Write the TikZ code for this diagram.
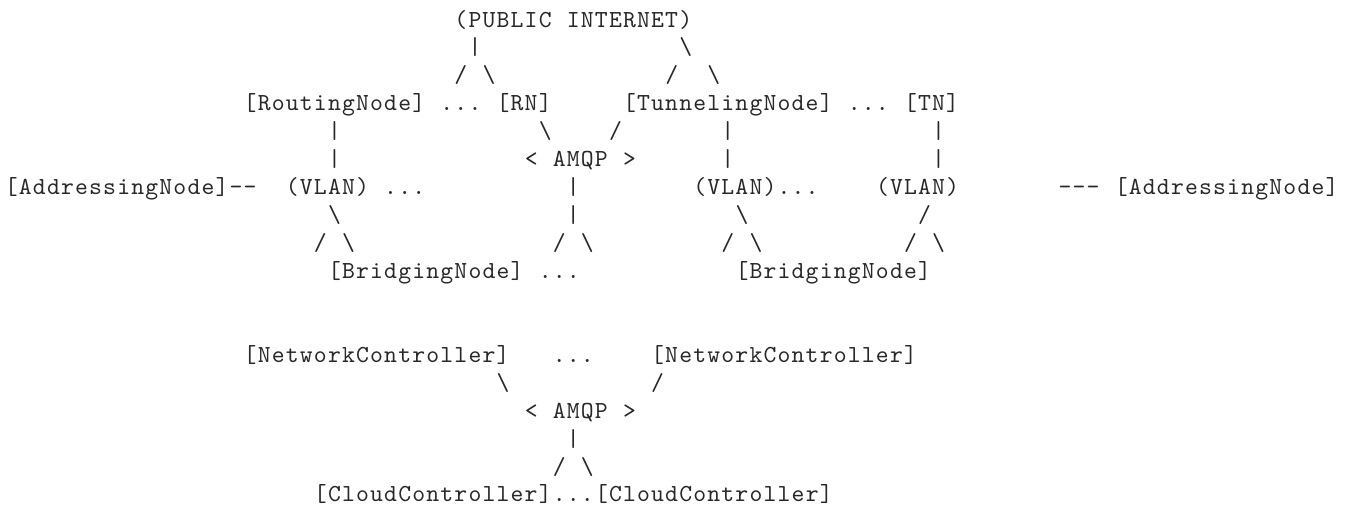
\documentclass[tikz,border=0pt]{standalone}
\usepackage{fontspec}
\newfontfamily\asciifont{lmmono10-regular.otf}
\definecolor{ink}{RGB}{40,40,40}
% every character sits in a fixed-width cell, like a terminal grid
\ExplSyntaxOn
\NewDocumentCommand\cells{m}{\tl_map_inline:nn{#1}{\makebox[14.05pt][c]{##1}}}
\ExplSyntaxOff
\newcommand\bs{\textbackslash}
\tikzset{
  txt/.style={anchor=base west, inner sep=0pt, outer sep=0pt, text=ink,
              font=\asciifont\fontsize{24.5}{28}\selectfont},
}
\begin{document}
\begin{tikzpicture}
\useasboundingbox (0pt,0pt) rectangle (1352pt,-525pt);
\begin{scope}[x=14.05pt, y=-27.94pt, shift={(4.3pt,-27pt)}]
% internet uplink
\node[txt] (pubL) at (32,0) {\cells{(PUBLIC}};
\node[txt] (pubR) at (40,0) {\cells{INTERNET)}};
\node[txt] (a1) at (33,1) {\cells{|}};
\node[txt] (a2) at (48,1) {\cells{\bs}};
\node[txt] (a3) at (32,2) {\cells{/}};
\node[txt] (a4) at (34,2) {\cells{\bs}};
\node[txt] (a5) at (47,2) {\cells{/}};
\node[txt] (a6) at (50,2) {\cells{\bs}};
% routing and tunneling nodes
\node[txt] (routing) at (17,3) {\cells{[RoutingNode]}};
\node[txt] (dotsR) at (31,3) {\cells{...}};
\node[txt] (rn) at (35,3) {\cells{[RN]}};
\node[txt] (tunneling) at (44,3) {\cells{[TunnelingNode]}};
\node[txt] (dotsT) at (60,3) {\cells{...}};
\node[txt] (tn) at (64,3) {\cells{[TN]}};
\node[txt] (b1) at (23,4) {\cells{|}};
\node[txt] (b2) at (38,4) {\cells{\bs}};
\node[txt] (b3) at (43,4) {\cells{/}};
\node[txt] (b4) at (51,4) {\cells{|}};
\node[txt] (b5) at (66,4) {\cells{|}};
\node[txt] (c1) at (23,5) {\cells{|}};
\node[txt] (amqpL) at (37,5) {\cells{<}};
\node[txt] (amqp) at (39,5) {\cells{AMQP}};
\node[txt] (amqpR) at (44,5) {\cells{>}};
\node[txt] (c2) at (51,5) {\cells{|}};
\node[txt] (c3) at (66,5) {\cells{|}};
% vlans and addressing
\node[txt] (addrL) at (0,6) {\cells{[AddressingNode]--}};
\node[txt] (vlanA) at (20,6) {\cells{(VLAN)}};
\node[txt] (dotsA) at (27,6) {\cells{...}};
\node[txt] (d1) at (40,6) {\cells{|}};
\node[txt] (vlanB) at (49,6) {\cells{(VLAN)...}};
\node[txt] (vlanC) at (62,6) {\cells{(VLAN)}};
\node[txt] (dash) at (75,6) {\cells{---}};
\node[txt] (addrR) at (79,6) {\cells{[AddressingNode]}};
\node[txt] (e1) at (23,7) {\cells{\bs}};
\node[txt] (e2) at (40,7) {\cells{|}};
\node[txt] (e3) at (52,7) {\cells{\bs}};
\node[txt] (e4) at (65,7) {\cells{/}};
\node[txt] (f1) at (22,8) {\cells{/}};
\node[txt] (f2) at (24,8) {\cells{\bs}};
\node[txt] (f3) at (39,8) {\cells{/}};
\node[txt] (f4) at (41,8) {\cells{\bs}};
\node[txt] (f5) at (51,8) {\cells{/}};
\node[txt] (f6) at (53,8) {\cells{\bs}};
\node[txt] (f7) at (64,8) {\cells{/}};
\node[txt] (f8) at (66,8) {\cells{\bs}};
% bridging
\node[txt] (bridgeA) at (23,9) {\cells{[BridgingNode]}};
\node[txt] (dotsB) at (38,9) {\cells{...}};
\node[txt] (bridgeB) at (52,9) {\cells{[BridgingNode]}};
% controllers
\node[txt] (ncA) at (17,12) {\cells{[NetworkController]}};
\node[txt] (dotsN) at (39,12) {\cells{...}};
\node[txt] (ncB) at (46,12) {\cells{[NetworkController]}};
\node[txt] (g1) at (35,13) {\cells{\bs}};
\node[txt] (g2) at (46,13) {\cells{/}};
\node[txt] (amqp2L) at (37,14) {\cells{<}};
\node[txt] (amqp2) at (39,14) {\cells{AMQP}};
\node[txt] (amqp2R) at (44,14) {\cells{>}};
\node[txt] (h1) at (40,15) {\cells{|}};
\node[txt] (h2) at (39,16) {\cells{/}};
\node[txt] (h3) at (41,16) {\cells{\bs}};
\node[txt] (ccA) at (22,17) {\cells{[CloudController]}};
\node[txt] (dotsC) at (39,17) {\cells{...}};
\node[txt] (ccB) at (42,17) {\cells{[CloudController]}};
\end{scope}
\end{tikzpicture}
\end{document}
